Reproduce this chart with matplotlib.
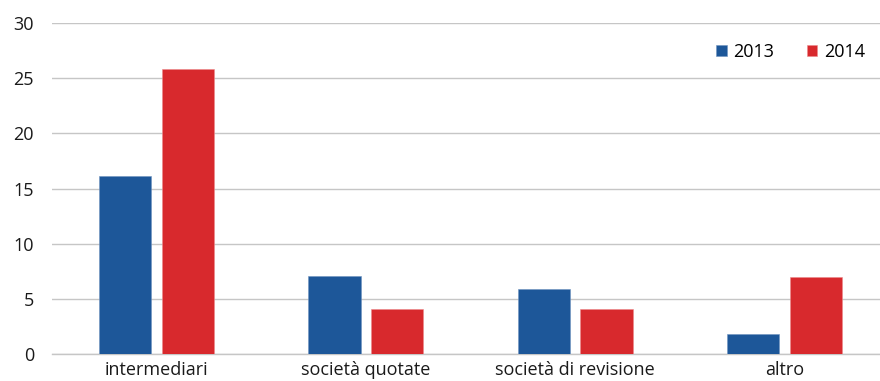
import numpy as np
import matplotlib.pyplot as plt

plt.rcParams['font.family'] = ['Open Sans', 'DejaVu Sans']

categories = ["intermediari", "società quotate", "società di revisione", "altro"]
values_2013 = [16.1, 7.1, 5.9, 1.8]
values_2014 = [25.8, 4.1, 4.1, 7.0]
years = ["2013", "2014"]

blue = "#1d5799"
red = "#d8292d"

fig = plt.figure(figsize=(8.8, 3.81), dpi=100)
ax = fig.add_axes([52 / 880, 27 / 381, 837 / 880, 331 / 381])

x = np.arange(len(categories))
w = 0.25
ax.bar(x - 0.15, values_2013, w, color=blue, edgecolor="#6f93c0", linewidth=0.4, label=years[0], zorder=3)
ax.bar(x + 0.15, values_2014, w, color=red, edgecolor="#ec8a8c", linewidth=0.4, label=years[1], zorder=3)

ax.set_xlim(-0.5, 3.5)
ax.set_ylim(0, 30)
ax.set_yticks(range(0, 31, 5))
ax.yaxis.grid(True, color="#c6c6c6", linewidth=1)
ax.set_axisbelow(True)
for s in ["top", "right", "left"]:
    ax.spines[s].set_visible(False)
ax.spines["bottom"].set_color("#c6c6c6")
ax.spines["bottom"].set_linewidth(1)

ax.set_xticks(x)
ax.set_xticklabels(categories)
ax.tick_params(axis="both", length=0, labelsize=13, colors="#1a1a1a")
ax.tick_params(axis="y", pad=13)
ax.tick_params(axis="x", pad=5)

leg = ax.legend(loc="upper right", bbox_to_anchor=((872 - 52) / 837, 0.962),
                ncol=2, frameon=False, fontsize=13, handlelength=0.6, handleheight=0.6,
                handletextpad=0.35, columnspacing=1.8, borderaxespad=0)

fig.savefig("out.png", dpi=100)
